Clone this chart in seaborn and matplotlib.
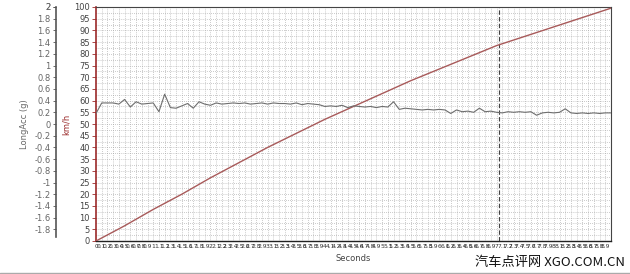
import numpy as np
import pandas as pd
import matplotlib
matplotlib.use("Agg")
import matplotlib.pyplot as plt
from matplotlib.lines import Line2D
import seaborn as sns

sns.set_theme(style="white")
plt.rcParams['font.family'] = ['DejaVu Sans', 'Noto Sans CJK SC']

# ---- data ----
speed_time = [0.0, 0.5, 1.0, 1.5, 2.0, 2.5, 3.0, 3.5, 4.0, 4.5, 5.0, 5.5,
              6.0, 6.5, 7.0, 7.5, 8.0, 8.5, 9.0]
speed_kmh = [0, 6.5, 13.5, 20, 27, 33.5, 40, 46, 52, 57.5, 63, 68.5,
             73.5, 78.5, 83.5, 87.5, 91.5, 95.5, 99.5]

acc_time = [round(i * 0.1, 1) for i in range(91)]
acc_g = [0.18, 0.36, 0.36, 0.36, 0.34, 0.42, 0.29, 0.38, 0.34, 0.35,
         0.36, 0.21, 0.51, 0.28, 0.27, 0.31, 0.35, 0.27, 0.38, 0.34,
         0.32, 0.36, 0.34, 0.35, 0.36, 0.35, 0.36, 0.34, 0.35, 0.36,
         0.34, 0.36, 0.35, 0.35, 0.34, 0.36, 0.33, 0.35, 0.34, 0.33,
         0.30, 0.31, 0.30, 0.32, 0.28, 0.31, 0.30, 0.29, 0.30, 0.28,
         0.30, 0.29, 0.38, 0.25, 0.27, 0.26, 0.25, 0.24, 0.25, 0.24,
         0.25, 0.24, 0.18, 0.24, 0.21, 0.22, 0.20, 0.27, 0.21, 0.22,
         0.20, 0.19, 0.21, 0.20, 0.21, 0.20, 0.21, 0.15, 0.19, 0.20,
         0.19, 0.20, 0.26, 0.19, 0.18, 0.19, 0.18, 0.19, 0.18, 0.19,
         0.19]

x_ticks = [round(i * 0.1, 1) for i in range(90)]
x_ticklabels = [("%g" % v) for v in x_ticks]
kmh_ticks = list(range(0, 105, 5))
acc_ticks = [round(-1.8 + 0.2 * i, 1) for i in range(20)]
acc_ticklabels = [("%g" % v) for v in acc_ticks]
marker_time = 7.05

speed_df = pd.DataFrame({"t": speed_time, "kmh": speed_kmh})
acc_df = pd.DataFrame({"t": acc_time, "g": acc_g})

# ---- figure ----
fig = plt.figure(figsize=(6.30, 2.74), dpi=100)
ax = fig.add_axes([96 / 630, 1 - 241 / 274, (611 - 96) / 630, (241 - 7) / 274])

red = "#9b2a2a"
gray = "#555555"

# grid
ax.set_xlim(0, 9.0)
ax.set_ylim(0, 100)
for xv in x_ticks[1:]:
    ax.axvline(xv, color="#9a9a9a", lw=0.5, ls=(0, (1, 2)), zorder=0)
for yv in np.arange(2.5, 100, 2.5):
    ax.axhline(yv, color="#9a9a9a", lw=0.5, ls=(0, (1, 2)), zorder=0)

ax.axvline(marker_time, color="#444444", lw=0.8, ls=(0, (4, 2)), zorder=1)

# acceleration axis (twin)
ax2 = ax.twinx()
ax2.set_ylim(-2, 2)
sns.lineplot(data=acc_df, x="t", y="g", ax=ax2, color="#6e6e6e", lw=0.8)
sns.lineplot(data=speed_df, x="t", y="kmh", ax=ax, color="#a85a5a", lw=1.0, zorder=3)

ax.set_ylim(0, 100)
ax.set_xlim(0, 9.0)

# km/h axis styling
ax.set_yticks(kmh_ticks)
ax.set_yticklabels([str(v) for v in kmh_ticks], fontsize=6, color="#444444")
ax.tick_params(axis="y", length=3, width=0.6, color=red, pad=1.5, left=True)
ax.spines["left"].set_color(red)
ax.spines["left"].set_linewidth(1.2)
ax.spines["bottom"].set_color("#222222")
ax.spines["bottom"].set_linewidth(1.0)
ax.spines["top"].set_color("#444444")
ax.spines["top"].set_linewidth(0.8)
ax.spines["right"].set_color("#444444")
ax.spines["right"].set_linewidth(0.8)
ax.set_ylabel("km/h", fontsize=6, color=red, labelpad=2)

ax.set_xticks(x_ticks)
ax.set_xticklabels(x_ticklabels, fontsize=4.3, color="#333333")
ax.tick_params(axis="x", length=0, pad=2)
ax.set_xlabel("Seconds", fontsize=6, color="#444444", labelpad=4)

# acc axis on the far left
ax2.yaxis.set_ticks_position("left")
ax2.yaxis.set_label_position("left")
ax2.spines["left"].set_visible(True)
ax2.spines["left"].set_position(("axes", -(96 - 56) / 515))
ax2.spines["left"].set_color("#555555")
ax2.spines["left"].set_linewidth(1.2)
ax2.spines["left"].set_bounds(-1.93, 2.0)
ax2.spines["right"].set_visible(False)
ax2.spines["top"].set_visible(False)
ax2.spines["bottom"].set_visible(False)
ax2.set_yticks(acc_ticks + [2.0])
ax2.set_yticklabels(acc_ticklabels + ["2"], fontsize=6, color="#666666")
ax2.tick_params(axis="y", length=2.5, width=0.6, color="#555555", pad=1.5, left=True, right=False)
ax2.set_ylabel("LongAcc (g)", fontsize=6, color="#666666", labelpad=4)
ax2.set_xlabel("")

# watermark
fig.text(0.992, 0.02, "汽车点评网 XGO.COM.CN", ha="right", va="bottom",
         fontsize=9.5, color="#111111",
         family=["Noto Sans CJK SC", "DejaVu Sans"])

fig.add_artist(Line2D([0, 1], [0.004, 0.004], color="#aaaaaa", lw=1.0,
                      transform=fig.transFigure))

fig.savefig("out.png", dpi=100, facecolor="white")
